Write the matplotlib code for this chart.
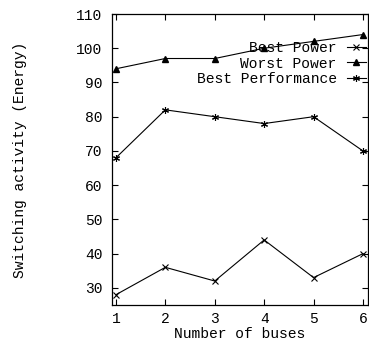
import matplotlib
matplotlib.use("Agg")
import matplotlib.pyplot as plt

# data
buses = [1, 2, 3, 4, 5, 6]
best_power = [28, 36, 32, 44, 33, 40]
worst_power = [94, 97, 97, 100, 102, 104]
best_perf = [68, 82, 80, 78, 80, 70]

plt.rcParams['font.family'] = ['Liberation Mono', 'DejaVu Sans Mono']
plt.rcParams['font.size'] = 10.5

fig = plt.figure(figsize=(3.69, 3.45), dpi=100)
ax = fig.add_axes([0.3035, 0.116, 0.6935, 0.8434])

lw = 0.8
ax.plot(buses, best_power, color='black', lw=lw, marker='x', ms=4, mew=0.8, label='Best Power')
ax.plot(buses, worst_power, color='black', lw=lw, marker='^', ms=4, label='Worst Power')
ax.plot(buses, best_perf, color='black', lw=lw, marker=(6, 2, 0), ms=5, mew=0.8, label='Best Performance')

ax.set_xlim(0.92, 6.1)
ax.set_ylim(25, 110)
ax.set_xticks(buses)
ax.set_yticks(range(30, 111, 10))

ax.tick_params(direction='in', length=4, width=0.8, top=True, right=True)
ax.tick_params(axis='x', pad=5)
ax.tick_params(axis='y', pad=7)
for s in ax.spines.values():
    s.set_linewidth(0.9)

ax.set_xlabel('Number of buses', labelpad=1)
ax.set_ylabel('Switching activity (Energy)', labelpad=35)

ax.legend(loc='upper right', bbox_to_anchor=(0.992, 0.907), frameon=False,
          markerfirst=False, borderpad=0, borderaxespad=0,
          handlelength=1.3, handletextpad=0.7, labelspacing=0.1)

fig.savefig('out.png', dpi=100)
